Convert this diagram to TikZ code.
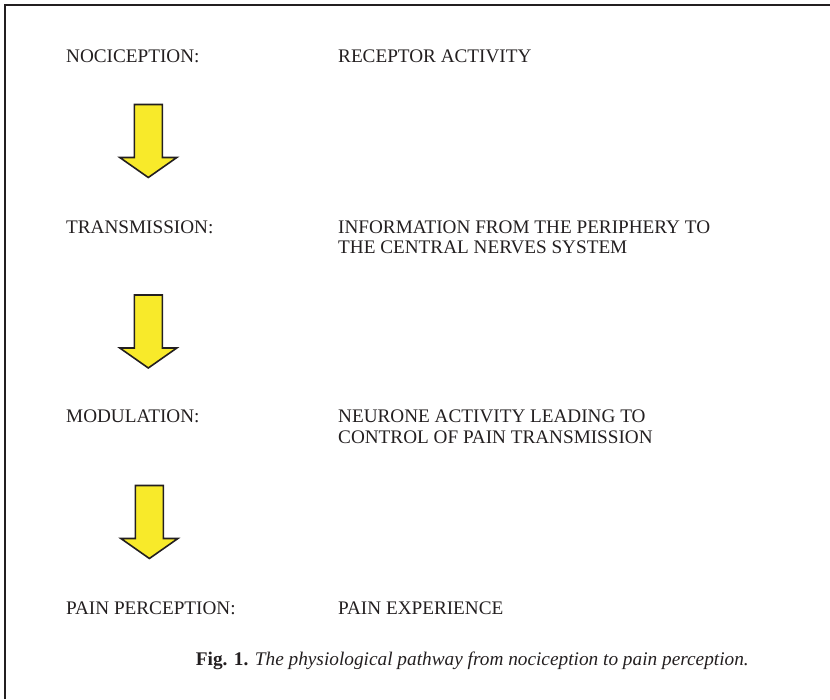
\documentclass[tikz,border=0pt]{standalone}
\usepackage{fontspec}
\setmainfont{Liberation Serif}
\definecolor{arrowyellow}{RGB}{248,234,42}
\definecolor{inkgrey}{RGB}{35,31,32}
\begin{document}
\begin{tikzpicture}[x=1pt,y=-1pt,
  label/.style={anchor=base west,inner sep=0pt,align=left,
    font=\fontsize{19.2}{20.3}\selectfont,text=inkgrey},
  caption/.style={anchor=base west,inner sep=0pt,
    font=\fontsize{19.3}{20}\selectfont,text=inkgrey},
  frame/.style={draw=inkgrey,line width=2.2pt},
  blockarrow/.style={fill=arrowyellow,draw=inkgrey,line width=1.6pt,line join=miter}]
  \useasboundingbox (0,0) rectangle (830,699);

  % frame (open to the right and bottom)
  \draw[frame] (5.3,699) -- (5.3,5.3) -- (830,5.3);

  % stage names and descriptions (two-line nodes are placed by their last baseline)
  \node[label] (noc)  at (66,62.3)   {NOCICEPTION:};
  \node[label] (nocd) at (338,62.3)  {RECEPTOR ACTIVITY};
  \node[label] (tra)  at (66,233)    {TRANSMISSION:};
  \node[label] (trad) at (338,253.3) {INFORMATION FROM THE PERIPHERY TO\\THE CENTRAL NERVES SYSTEM};
  \node[label] (mod)  at (66,422.7)  {MODULATION:};
  \node[label] (modd) at (338,443)   {NEURONE ACTIVITY LEADING TO\\CONTROL OF PAIN TRANSMISSION};
  \node[label] (pai)  at (66,614.3)  {PAIN PERCEPTION:};
  \node[label] (paid) at (338,614.3) {PAIN EXPERIENCE};

  % caption
  \node[caption] (cap) at (195.7,665.5) {\textbf{Fig. 1.} \textit{The physiological pathway from nociception to pain perception.}};

  % downward block arrows between the stages
  \coordinate (a1) at (148.3,104.5);
  \coordinate (a2) at (148.3,295);
  \coordinate (a3) at (149.4,485.5);
  \foreach \c in {a1,a2,a3}{
    \draw[blockarrow] (\c) ++(-14,0) -- ++(28,0) -- ++(0,53) -- ++(14.5,0)
      -- ++(-28.5,20) -- ++(-28.5,-20) -- ++(14.5,0) -- cycle;
  }
\end{tikzpicture}
\end{document}
